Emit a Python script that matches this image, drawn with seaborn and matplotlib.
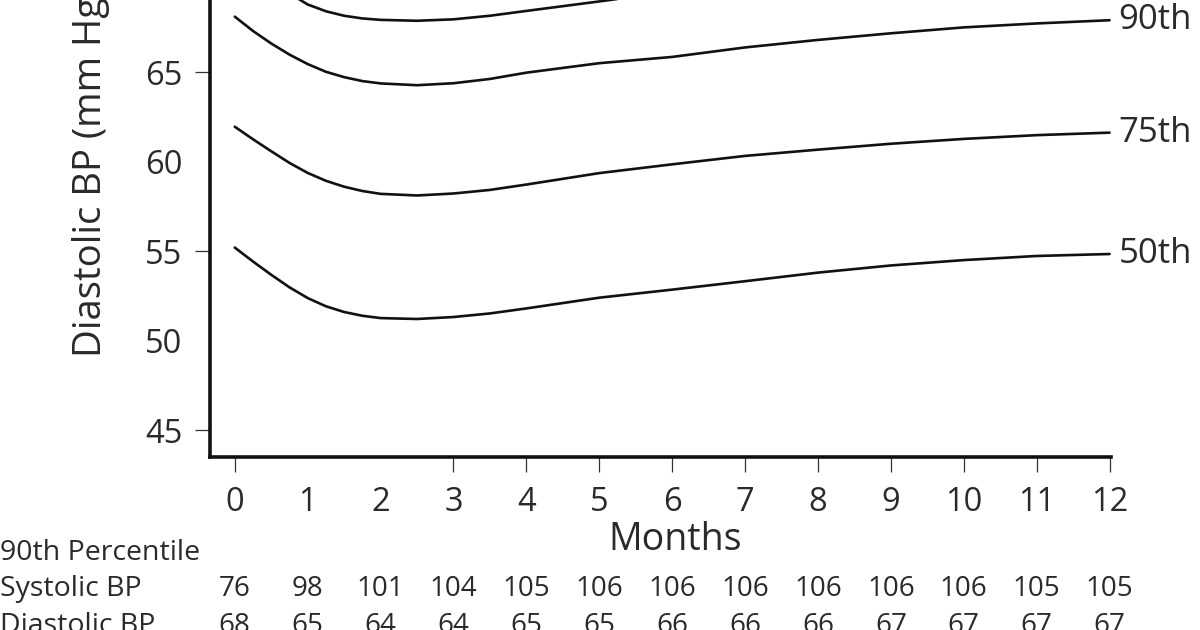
import numpy as np
import pandas as pd
import seaborn as sns
import matplotlib.pyplot as plt
from matplotlib import transforms

sns.set_theme(style='white')
plt.rcParams['font.family'] = ['Open Sans', 'DejaVu Sans']

# percentile curves (diastolic BP, mmHg)
months = [0, 0.25, 0.5, 0.75, 1, 1.25, 1.5, 1.75, 2, 2.5, 3, 3.5, 4, 5, 6, 7, 8, 9, 10, 11, 12]
p95 = [71.8, 70.95, 70.15, 69.4, 68.78, 68.4, 68.15, 68.0, 67.92, 67.87, 67.95, 68.15, 68.42,
       68.95, 69.5, 70.0, 70.4, 70.8, 71.1, 71.3, 71.45]
p90 = [68.1, 67.3, 66.6, 65.98, 65.45, 65.02, 64.72, 64.5, 64.37, 64.27, 64.38, 64.62, 64.97,
       65.5, 65.85, 66.38, 66.8, 67.17, 67.5, 67.72, 67.9]
p75 = [61.95, 61.25, 60.58, 59.93, 59.37, 58.93, 58.6, 58.36, 58.2, 58.11, 58.22, 58.42, 58.72,
       59.36, 59.85, 60.32, 60.67, 61.0, 61.27, 61.48, 61.62]
p50 = [55.2, 54.42, 53.68, 52.98, 52.38, 51.92, 51.6, 51.39, 51.26, 51.21, 51.32, 51.52, 51.8,
       52.4, 52.85, 53.32, 53.8, 54.2, 54.5, 54.73, 54.84]
curve_names = ['95th', '90th', '75th', '50th']

# table under the chart
table_months = list(range(13))
systolic_90 = [76, 98, 101, 104, 105, 106, 106, 106, 106, 106, 106, 105, 105]
diastolic_90 = [68, 65, 64, 64, 65, 65, 66, 66, 66, 67, 67, 67, 67]

df = pd.concat([
    pd.DataFrame({'month': months, 'bp': vals, 'pct': name})
    for name, vals in zip(curve_names, [p95, p90, p75, p50])
])

fig = plt.figure(figsize=(12, 6.3), dpi=100)
ax = fig.add_axes([0.175, 1 - 457 / 630, (1111 - 210) / 1200, 457 / 630])

sns.lineplot(data=df, x='month', y='bp', hue='pct', estimator=None,
             palette={n: '#111111' for n in curve_names}, linewidth=1.9,
             legend=False, ax=ax)

ax.set_xlim(-0.34, 12.02)
ax.set_ylim(43.5, 69.03)

txt = '#2a2a2a'
ax.set_xticks(range(13))
ax.set_yticks([45, 50, 55, 60, 65])
ax.tick_params(axis='both', which='major', length=11, width=0.9, color='#333333',
               direction='out', bottom=True, left=True,
               labelsize=23.5, labelcolor=txt)
ax.tick_params(axis='x', pad=10)
ax.tick_params(axis='y', pad=9)
# only some tick marks are drawn in the original
for m, t in zip(range(13), ax.xaxis.get_major_ticks()):
    if m in (1, 2):
        t.tick1line.set_visible(False)
for v, t in zip([45, 50, 55, 60, 65], ax.yaxis.get_major_ticks()):
    if v in (50, 60):
        t.tick1line.set_visible(False)

for s in ['top', 'right']:
    ax.spines[s].set_visible(False)
for s in ['left', 'bottom']:
    ax.spines[s].set_linewidth(2.6)
    ax.spines[s].set_color('#111111')

ax.set_xlabel('')
ax.set_ylabel('')
fig.text(675 / 1200, 1 - 540 / 630, 'Months', ha='center', va='center',
         fontsize=27, color=txt)
fig.text(91 / 1200, 1 - 357 / 630, 'Diastolic BP (mm Hg)', rotation=90,
         rotation_mode='anchor', ha='left', va='center', fontsize=27.5, color=txt)

for name, vals in zip(curve_names, [p95, p90, p75, p50]):
    ax.text(12.12, vals[-1], name, ha='left', va='center', fontsize=25,
            color=txt, clip_on=False)

# table rows
trans = transforms.blended_transform_factory(ax.transData, fig.transFigure)
fig.text(0.0, 1 - 553 / 630, '90th Percentile', ha='left', va='center',
         fontsize=20.5, color=txt)
fig.text(0.0, 1 - 589 / 630, 'Systolic BP', ha='left', va='center',
         fontsize=20.5, color=txt)
fig.text(0.0, 1 - 626 / 630, 'Diastolic BP', ha='left', va='center',
         fontsize=20.5, color=txt)
for m, s, d in zip(table_months, systolic_90, diastolic_90):
    ax.text(m, 1 - 589 / 630, str(s), transform=trans, ha='center',
            va='center', fontsize=20, color=txt, clip_on=False)
    ax.text(m, 1 - 626 / 630, str(d), transform=trans, ha='center',
            va='center', fontsize=20, color=txt, clip_on=False)

fig.savefig('out.png', dpi=100)
